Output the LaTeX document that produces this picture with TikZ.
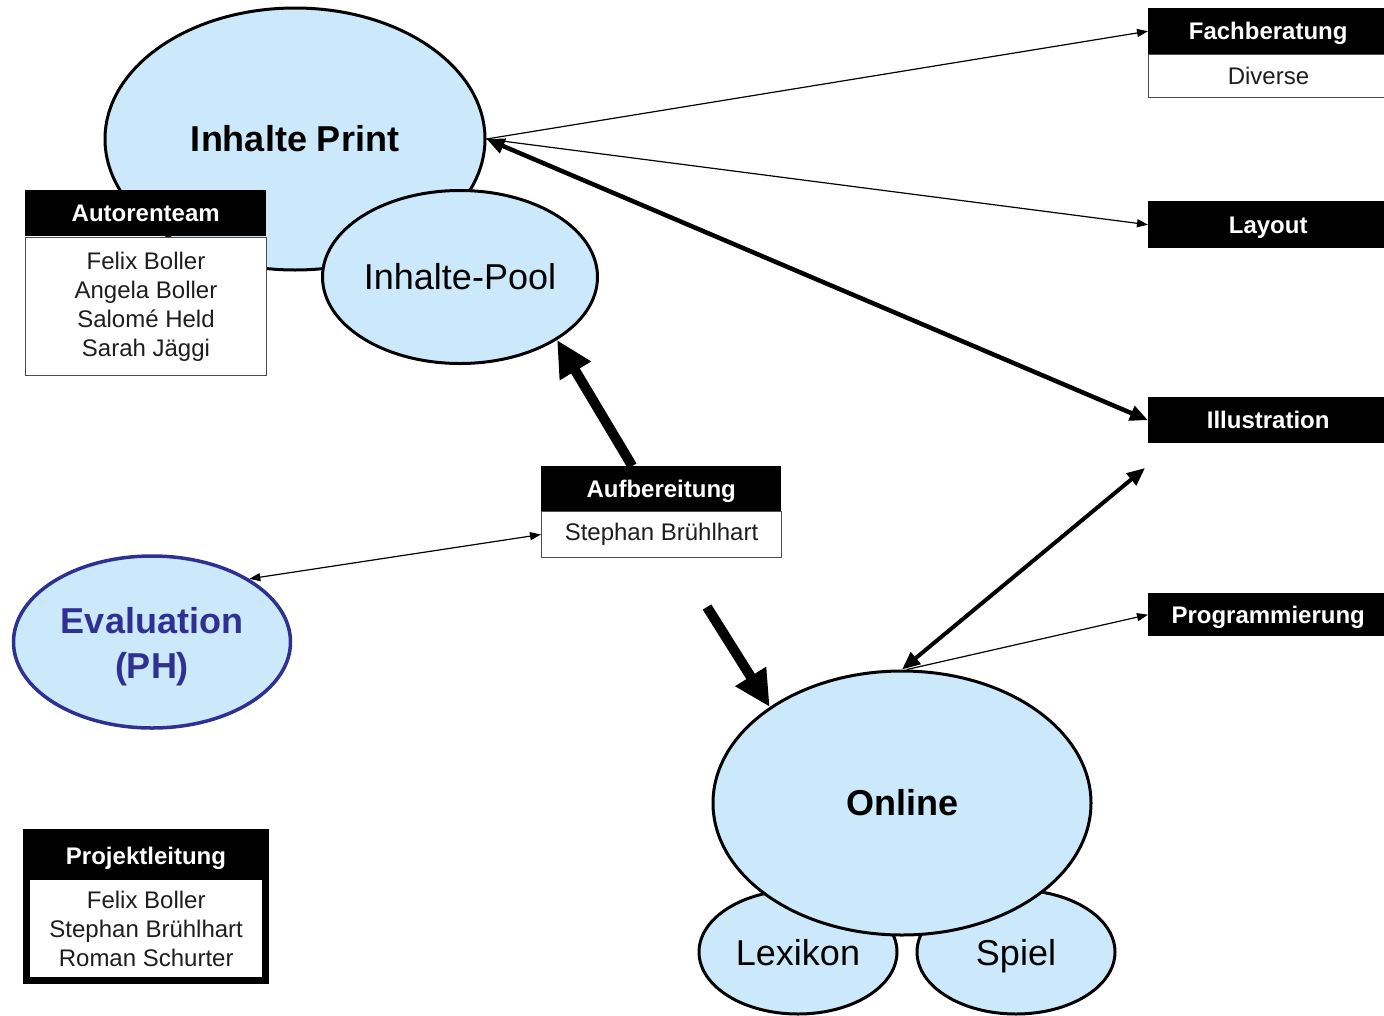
\documentclass[tikz,border=0pt]{standalone}
\usepackage{fontspec}
\setmainfont{Liberation Sans}
\usetikzlibrary{shapes.geometric,arrows.meta}
\definecolor{bub}{RGB}{204,233,252}
\definecolor{evb}{RGB}{46,49,146}
\definecolor{txt}{RGB}{30,30,30}
\begin{document}
\begin{tikzpicture}[x=1pt,y=-1pt,
 bubble/.style={ellipse,draw=black,line width=3pt,fill=bub,inner sep=0pt,text=black},
 hdr/.style={rectangle,fill=black,text=white,font=\fontsize{24}{28}\selectfont\bfseries,minimum width=240pt,minimum height=46pt,inner sep=0pt,anchor=north west,text height=17pt,text depth=0pt},
 bodybox/.style={rectangle,draw=black!70,line width=1pt,fill=white,text=txt,font=\fontsize{24}{29}\selectfont,align=center,minimum width=240pt,inner sep=0pt,anchor=north west},
 thinarr/.style={line width=1.2pt,-{Triangle[length=11pt,width=8pt]}},
 thinboth/.style={line width=1.2pt,{Triangle[length=11pt,width=8pt]}-{Triangle[length=11pt,width=8pt]}},
 midboth/.style={line width=4.5pt,{Triangle[length=18pt,width=15pt]}-{Triangle[length=18pt,width=15pt]}},
 bigarr/.style={line width=10pt,-{Triangle[length=36pt,width=34pt]}},
 subbub/.style={bubble,minimum width=198pt,minimum height=124pt,font=\fontsize{36}{40}\selectfont,text height=26pt,text depth=0pt}
]
\clip (0,0) rectangle (1384,1015);
\fill[white] (0,0) rectangle (1384,1015);

% Inhalte Print cluster
\node[bubble,minimum width=380pt,minimum height=262pt,font=\fontsize{36}{40}\selectfont\bfseries] (ip) at (295,139) {Inhalte Print};
\node[hdr,minimum width=241pt] (auth) at (25,190) {Autorenteam};
\node[bodybox,minimum width=241pt,minimum height=138pt] (autb) at (25,237) {Felix Boller\\Angela Boller\\Salomé Held\\Sarah Jäggi};
\node[bubble,minimum width=275pt,minimum height=173pt,font=\fontsize{36}{40}\selectfont] (pool) at (460,277) {Inhalte-Pool};

% Aufbereitung
\node[hdr] (aufh) at (541,466) {Aufbereitung};
\node[bodybox,minimum height=46pt] (aufb) at (541,511) {Stephan Brühlhart};

% Evaluation
\node[bubble,draw=evb,line width=3.5pt,minimum width=277pt,minimum height=172pt] (eval) at (152,642) {};
\node[text=evb,font=\fontsize{36}{45}\selectfont\bfseries,align=center,inner sep=0pt] (evalt) at (152,647) {Evaluation\\(PH)};

% Projektleitung
\node[rectangle,fill=black,minimum width=246pt,minimum height=155pt,inner sep=0pt,anchor=north west] (pl) at (23,829) {};
\node[text=white,font=\fontsize{24}{28}\selectfont\bfseries,inner sep=0pt,text height=17pt,text depth=0pt] (plh) at (146,856) {Projektleitung};
\node[rectangle,fill=white,text=txt,font=\fontsize{24}{29}\selectfont,align=center,minimum width=232pt,minimum height=97pt,inner sep=0pt,anchor=north west] (plb) at (30,880) {Felix Boller\\Stephan Brühlhart\\Roman Schurter};

% Online cluster
\node[subbub] (lex) at (798,952) {Lexikon};
\node[subbub] (spiel) at (1016,952) {Spiel};
\node[bubble,minimum width=378pt,minimum height=264pt,font=\fontsize{36}{40}\selectfont\bfseries] (online) at (902,803) {Online};

% Right boxes
\node[hdr] (fach) at (1148,8) {Fachberatung};
\node[bodybox,minimum height=43pt] (fachb) at (1148,54) {Diverse};
\node[hdr,minimum height=47pt] (lay) at (1148,201) {Layout};
\node[hdr] (ill) at (1148,397) {Illustration};
\node[hdr,minimum height=43pt] (prog) at (1148,593) {Programmierung};

\coordinate (illfree) at (1145,468);
\coordinate (onfree) at (707,607);

% Connectors
\draw[thinarr] (ip.east) -- (fach.west);
\draw[thinarr] (ip.east) -- (lay.west);
\draw[midboth] (ill.west) -- (ip.east);
\draw[bigarr] ([xshift=-29pt]aufh.north) -- (pool.-33);
\draw[thinboth] (aufb.west) -- (eval.33);
\draw[bigarr] (onfree) -- (online.144);
\draw[midboth,line width=4pt] (illfree) -- (online.north);
\draw[thinarr] (online.88) -- (prog.west);
\end{tikzpicture}
\end{document}
